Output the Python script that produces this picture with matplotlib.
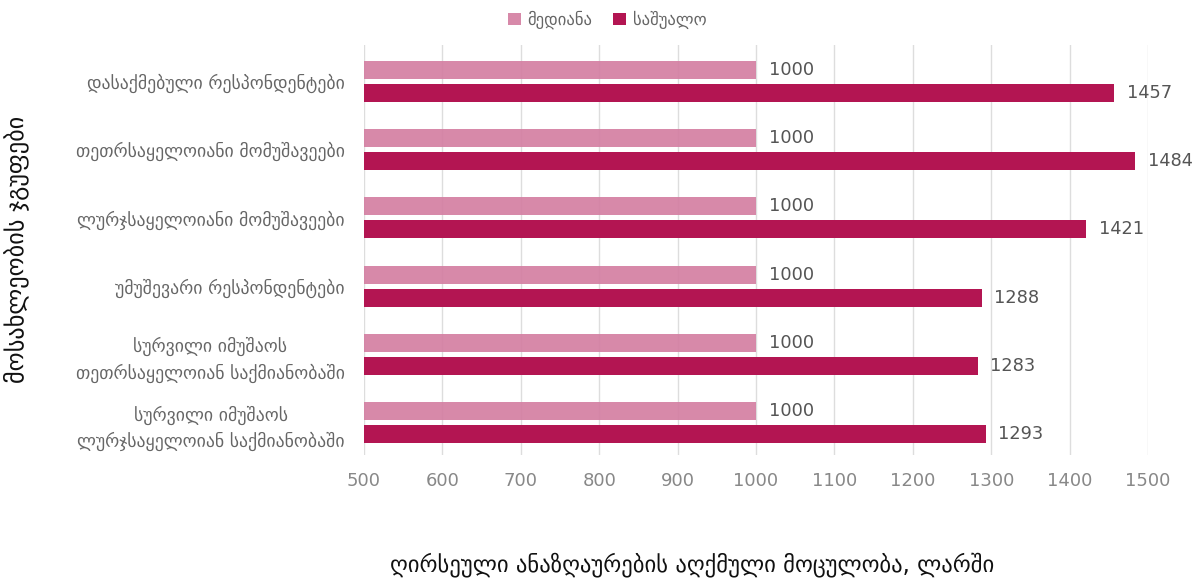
import matplotlib
matplotlib.use("Agg")
import matplotlib.pyplot as plt
import numpy as np

plt.rcParams['font.family'] = ['DejaVu Sans']

categories = [
    "დასაქმებული რესპონდენტები",
    "თეთრსაყელოიანი მომუშავეები",
    "ლურჯსაყელოიანი მომუშავეები",
    "უმუშევარი რესპონდენტები",
    "სურვილი იმუშაოს\nთეთრსაყელოიან საქმიანობაში",
    "სურვილი იმუშაოს\nლურჯსაყელოიან საქმიანობაში",
]
median_vals = [1000, 1000, 1000, 1000, 1000, 1000]
mean_vals = [1457, 1484, 1421, 1288, 1283, 1293]
series_names = ["მედიანა", "საშუალო"]
xticks = [500, 600, 700, 800, 900, 1000, 1100, 1200, 1300, 1400, 1500]

c_med = "#d47fa2"
c_mean = "#b31552"

fig = plt.figure(figsize=(12, 5.81), dpi=100)
ax = fig.add_axes([364/1200, 1-455/581, (1148-364)/1200, (455-45)/581])

y = np.arange(len(categories))
h = 0.264
off = 0.169
b1 = ax.barh(y - off, [v - 500 for v in median_vals], left=500, height=h, color=c_med, alpha=0.92, label=series_names[0], zorder=3)
b2 = ax.barh(y + off, [v - 500 for v in mean_vals], left=500, height=h, color=c_mean, label=series_names[1], zorder=3)

for yi, v in zip(y - off, median_vals):
    ax.text(v + 16, yi, f"{v}", va='center', ha='left', fontsize=12.8, color="#555555", zorder=4)
for yi, v in zip(y + off, mean_vals):
    ax.text(v + 16, yi, f"{v}", va='center', ha='left', fontsize=12.8, color="#555555", zorder=4)

ax.set_xlim(500, 1500)
ax.set_ylim(5.477, -0.535)
ax.set_xticks(xticks)
ax.set_xticklabels([str(t) for t in xticks], fontsize=13, color="#888888")
ax.set_yticks(y)
ax.set_yticklabels(categories, fontsize=12.8, color="#666666")
for t in ax.get_yticklabels():
    t.set_multialignment('center')
    t.set_linespacing(1.5)
ax.tick_params(axis='x', length=0, pad=12)
ax.tick_params(axis='y', length=0, pad=14)
for s in ax.spines.values():
    s.set_visible(False)
ax.grid(axis='x', color="#dddddd", linewidth=1, zorder=0)
ax.set_axisbelow(True)

fig.legend(handles=[b1, b2], labels=series_names, loc='center', bbox_to_anchor=(607/1200, 1-20/581),
           ncol=2, frameon=False, fontsize=12, handlelength=0.8, handleheight=0.8,
           handletextpad=0.4, columnspacing=1.2, labelcolor="#666666")

fig.text(692/1200, 1-565/581, "ღირსეული ანაზღაურების აღქმული მოცულობა, ლარში", ha='center', va='center', fontsize=16.3, color="#111111")
fig.text(16/1200, 1-249/581, "მოსახლეობის ჯგუფები", ha='center', va='center', rotation=90, fontsize=17.5, color="#111111")

fig.savefig("out.png", dpi=100)
